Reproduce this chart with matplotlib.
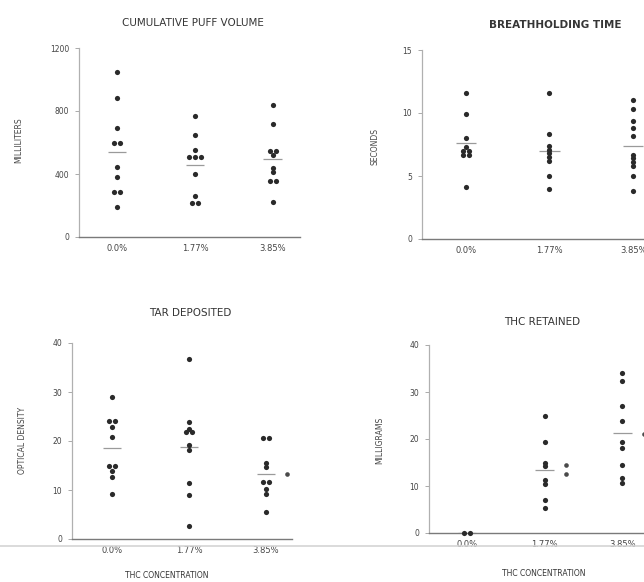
import matplotlib
matplotlib.use("Agg")
import matplotlib.pyplot as plt
import numpy as np
from matplotlib.lines import Line2D

W, H = 644, 582

concentrations = ["0.0%", "1.77%", "3.85%"]

# values, one list per concentration group
puff_volume = [
    [1050, 880, 695, 600, 600, 445, 380, 285, 285, 190],
    [770, 645, 550, 510, 510, 510, 400, 260, 215, 215],
    [835, 715, 545, 545, 520, 435, 415, 355, 355, 220],
]
breath_time = [
    [11.6, 9.9, 8.0, 7.3, 7.0, 7.0, 6.7, 6.7, 4.1],
    [11.6, 8.3, 7.4, 7.1, 6.8, 6.5, 6.2, 5.0, 4.0],
    [11.0, 10.3, 9.4, 8.8, 8.2, 6.7, 6.4, 6.1, 5.8, 5.0, 3.8],
]
tar_deposited = [
    [29.0, 24.1, 24.1, 22.9, 20.9, 14.8, 14.8, 13.9, 12.7, 9.1],
    [36.7, 23.9, 22.5, 21.8, 21.8, 19.2, 18.2, 11.4, 9.0, 2.7],
    [20.6, 20.6, 15.5, 14.6, 11.7, 11.7, 10.3, 9.2, 5.6],
]
thc_retained = [
    [0.0, 0.0],
    [24.9, 19.3, 15.0, 14.3, 11.2, 10.5, 7.0, 5.3],
    [34.0, 32.4, 27.1, 23.9, 19.3, 18.0, 14.5, 11.6, 10.6],
]
# extra marks printed beside some columns
tar_side = {2: [13.3]}
thc_side = {1: [14.5, 12.6], 2: [21.1]}

DOT = "#2a2a2a"
TXT = "#454545"


def px_axes(fig, x0, x1, y_top, y_bot):
    return fig.add_axes([x0 / W, 1 - y_bot / H, (x1 - x0) / W, (y_bot - y_top) / H])


def spread(values, step):
    values = np.asarray(values, dtype=float)
    offs = np.zeros(len(values))
    for v in np.unique(values):
        idx = np.where(values == v)[0]
        k = len(idx)
        offs[idx] = (np.arange(k) - (k - 1) / 2) * step
    return offs


def draw_panel(ax, groups, xlim, ylim, yticks, ylabel, label_xy, side=None):
    for i, vals in enumerate(groups):
        offs = spread(vals, 0.075)
        ax.scatter(i + offs, vals, s=14, color=DOT, linewidths=0, zorder=3, clip_on=False)
        m = np.mean(vals)
        ax.hlines(m, i - 0.12, i + 0.12, color="#9a9a9a", lw=0.9, zorder=2)
    if side:
        for i, vals in side.items():
            ax.scatter([i + 0.28] * len(vals), vals, s=11, color="#4a4a4a",
                       linewidths=0, zorder=3, clip_on=False)
    ax.set_xlim(*xlim)
    ax.set_ylim(*ylim)
    ax.set_xticks(range(len(concentrations)))
    ax.set_xticklabels(concentrations)
    ax.set_yticks(yticks)
    for s in ("top", "right"):
        ax.spines[s].set_visible(False)
    ax.spines["left"].set_color("#b0b0b0")
    ax.spines["left"].set_linewidth(0.9)
    ax.spines["bottom"].set_color("#7a7a7a")
    ax.spines["bottom"].set_linewidth(1.0)
    ax.tick_params(axis="y", length=3, width=0.7, color="#aaaaaa", labelsize=5.5,
                   labelcolor=TXT, pad=4)
    ax.tick_params(axis="x", length=0, labelsize=6, labelcolor=TXT, pad=5)
    ax.set_ylabel(ylabel, fontsize=5.5, color=TXT)
    ax.yaxis.set_label_coords(*label_xy)
    ax.patch.set_alpha(0)


def main() -> None:
    fig = plt.figure(figsize=(W / 100, H / 100), dpi=100)

    ax1 = px_axes(fig, 79, 300, 48, 237)
    draw_panel(ax1, puff_volume, (-0.49, 2.35), (0, 1200), [0, 400, 800, 1200],
               "MILLILITERS", (-0.25, 0.51))

    ax2 = px_axes(fig, 422, 680, 50, 239)
    draw_panel(ax2, breath_time, (-0.524, 2.56), (0, 15), [0, 5, 10, 15],
               "SECONDS", (-0.163, 0.49))

    ax3 = px_axes(fig, 72, 292, 343, 539)
    draw_panel(ax3, tar_deposited, (-0.52, 2.34), (0, 40), [0, 10, 20, 30, 40],
               "OPTICAL DENSITY", (-0.205, 0.505), side=tar_side)

    ax4 = px_axes(fig, 429, 680, 345, 533)
    draw_panel(ax4, thc_retained, (-0.487, 2.74), (0, 40), [0, 10, 20, 30, 40],
               "MILLIGRAMS", (-0.179, 0.495), side=thc_side)

    titles = [
        ("CUMULATIVE PUFF VOLUME", 193, 23, "normal"),
        ("BREATHHOLDING TIME", 555, 25, "bold"),
        ("TAR DEPOSITED", 190, 313, "normal"),
        ("THC RETAINED", 542, 322, "normal"),
    ]
    for text, x, y, weight in titles:
        fig.text(x / W, 1 - y / H, text, ha="center", va="center", fontsize=7.5,
                 color="#353535", fontweight=weight)

    for x, y in [(167, 575), (544, 573)]:
        fig.text(x / W, 1 - y / H, "THC CONCENTRATION", ha="center", va="center",
                 fontsize=5.5, color="#353535")

    # faint fold line across the scanned page
    fig.add_artist(Line2D([0, 1], [1 - 546 / H] * 2, color="#d4d4d4", lw=1.2))

    fig.savefig("out.png", dpi=100, facecolor="white")


if __name__ == "__main__":
    main()
